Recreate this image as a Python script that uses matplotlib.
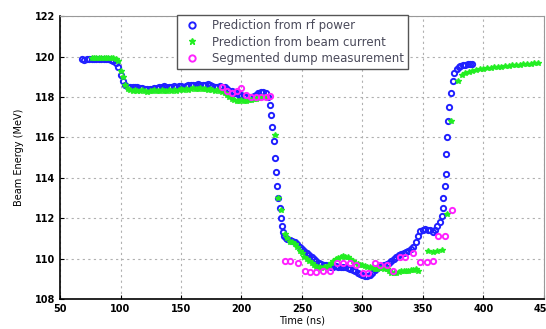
import matplotlib
matplotlib.use("Agg")
import matplotlib.pyplot as plt

# prediction from rf power (blue)
t_rf = [68, 70, 72, 74, 76, 78, 80, 82, 84, 86, 88, 90, 92, 94, 96,
        98, 100, 102, 104, 106, 108, 110, 112, 114, 116, 118, 120, 122, 124,
        126, 128, 130, 132, 134, 136, 138, 140, 142, 144, 146, 148, 150, 152,
        154, 156, 158, 160, 162, 164, 166, 168, 170, 172, 174, 176, 178, 180,
        182, 184, 186, 188, 190, 192, 194, 196, 198, 200, 202, 204, 206, 208,
        210, 212, 214, 216, 218, 220, 222,
        223.5, 224.5, 225.5, 226.5, 227.5, 228.5, 229.5, 230.5, 231.5, 232.5,
        233.5, 234.5, 235.5, 236.5,
        238, 240, 242, 244, 246, 248, 250, 252, 254, 256, 258, 260, 262,
        264, 266, 268, 270, 272, 274, 276, 278, 280, 282, 284, 286, 288, 290,
        292, 294, 296, 298, 300,
        302, 304, 306, 308, 310, 312, 314, 316, 318, 320, 322, 324, 326, 328,
        330, 332, 334, 336, 338, 340, 342, 344, 346, 348, 350, 352, 354, 356,
        358, 360, 362,
        364, 365.5, 366.5, 367, 368, 368.8, 369.5, 370, 371, 372, 373, 374.5,
        376, 378, 379.5, 381, 383, 385, 387, 389, 391]
e_rf = [119.9, 119.85, 119.9, 119.9, 119.9, 119.9, 119.9, 119.9, 119.9, 119.9,
        119.9, 119.9, 119.85, 119.8, 119.7,
        119.5, 119.1, 118.8, 118.6, 118.5, 118.5, 118.5, 118.5, 118.5, 118.45,
        118.45, 118.4, 118.4, 118.4, 118.4, 118.45, 118.45, 118.5, 118.5,
        118.55, 118.5, 118.5, 118.5, 118.55, 118.5, 118.55, 118.55, 118.5,
        118.55, 118.6, 118.6, 118.6, 118.6, 118.65, 118.6, 118.6, 118.6,
        118.65, 118.6, 118.55, 118.5, 118.5, 118.55, 118.5, 118.5, 118.4,
        118.3, 118.3, 118.2, 118.2, 118.1, 118.1, 118.05, 118.0, 118.0, 118.0,
        118.05, 118.1, 118.2, 118.25, 118.25, 118.2, 118.0,
        117.6, 117.1, 116.5, 115.8, 115.0, 114.3, 113.6, 113.0, 112.5, 112.0,
        111.6, 111.3, 111.1, 111.0,
        110.95, 110.9, 110.85, 110.8, 110.7, 110.6, 110.5, 110.4, 110.3, 110.2,
        110.1, 110.0, 109.9,
        109.8, 109.75, 109.7, 109.7, 109.65, 109.6, 109.6, 109.65, 109.6, 109.6,
        109.6, 109.6, 109.55, 109.5, 109.45, 109.4, 109.3, 109.25, 109.2,
        109.15, 109.15, 109.2, 109.3, 109.45, 109.55, 109.6, 109.65, 109.7,
        109.75, 109.8, 109.9, 110.0, 110.1, 110.2, 110.25, 110.3, 110.35,
        110.4, 110.5, 110.6, 110.8, 111.1, 111.35, 111.4, 111.45, 111.4, 111.4,
        111.3, 111.4, 111.6,
        111.8, 112.1, 112.5, 113.0, 113.6, 114.2, 115.2, 116.0, 116.8, 117.5,
        118.2, 118.8, 119.2, 119.4, 119.5, 119.55, 119.6, 119.6, 119.65,
        119.65, 119.65]

# prediction from beam current (green)
t_bc = [76, 78, 80, 82, 84, 86, 88, 90, 92, 94, 96, 98, 100, 102, 104, 106,
        108, 110, 112, 114, 116, 118, 120, 122, 124, 126, 128, 130, 132, 134,
        136, 138, 140, 142, 144, 146, 148, 150, 152, 154, 156, 158, 160, 162,
        164, 166, 168, 170, 172, 174, 176, 178, 180, 182, 184, 186, 188, 190,
        192, 194, 196, 198, 200, 202, 204, 206, 208, 210, 212, 214, 216, 218,
        220,
        227.5, 230, 232.5,
        236, 238, 240, 242, 244, 246, 248, 250, 252, 254, 256, 258, 260, 262,
        264, 266, 268, 270, 272, 274, 276, 278, 280, 282, 284, 286, 288, 290,
        292, 294, 296, 298, 300, 302, 304, 306, 308, 310, 312, 314, 316, 318,
        320, 322, 324, 326, 328, 330, 332, 334, 336, 338, 340, 342, 344, 346,
        354, 358, 362, 365.5, 369.6,
        373, 379, 382, 385, 388, 391, 394, 397, 400, 403, 406, 409, 412, 415,
        418, 421, 424, 427, 430, 433, 436, 439, 442, 445]
e_bc = [119.95, 119.95, 119.95, 119.95, 119.95, 119.95, 119.95, 119.95,
        119.95, 119.95, 119.9, 119.8, 119.3, 119.0, 118.6, 118.4,
        118.35, 118.3, 118.35, 118.3, 118.3, 118.35, 118.3, 118.25, 118.3,
        118.3, 118.35, 118.3, 118.3, 118.35, 118.3, 118.3, 118.35, 118.3,
        118.35, 118.3, 118.35, 118.4, 118.35, 118.4, 118.35, 118.4, 118.45,
        118.4, 118.4, 118.45, 118.4, 118.4, 118.35, 118.4, 118.35, 118.3,
        118.35, 118.3, 118.25, 118.2, 118.1, 118.0, 117.9, 117.85, 117.8,
        117.8, 117.85, 117.8, 117.8, 117.85, 117.85, 117.9, 117.9, 117.95,
        118.0, 118.0, 118.0,
        116.1, 113.0, 112.4,
        111.2, 111.0, 110.8, 110.8, 110.7, 110.6, 110.4, 110.3, 110.1, 110.0,
        109.9, 109.8, 109.7, 109.6, 109.6, 109.55, 109.6, 109.6, 109.7, 109.8,
        109.9, 110.0, 110.05, 110.1, 110.15, 110.1, 110.1, 110.0, 109.9,
        109.8, 109.75, 109.7, 109.7, 109.65, 109.6, 109.6, 109.55, 109.5,
        109.5, 109.55, 109.55, 109.5, 109.5, 109.4, 109.3, 109.3, 109.3,
        109.35, 109.4, 109.4, 109.4, 109.4, 109.45, 109.45, 109.5, 109.4,
        110.4, 110.33, 110.4, 110.45, 112.2,
        116.8, 118.8, 119.1, 119.2, 119.25, 119.3, 119.35, 119.4, 119.4,
        119.45, 119.45, 119.5, 119.5, 119.5, 119.55, 119.55, 119.6, 119.6,
        119.6, 119.65, 119.65, 119.65, 119.7, 119.7]

# segmented dump measurement (magenta)
t_dump = [184, 188, 192, 196, 200, 204, 208, 212, 216, 220, 224,
          236, 240, 247, 252.5, 256.6, 262, 267.6, 273, 278.7, 284, 289.7, 295,
          300.7, 304.8, 310, 314.5, 320, 325.5, 331, 335, 342, 347.5, 353,
          358.5, 362.4, 368, 373.7]
e_dump = [118.5, 118.3, 118.2, 118.3, 118.45, 118.1, 118.0, 118.0, 118.0,
          118.0, 118.05,
          109.9, 109.9, 109.8, 109.4, 109.35, 109.35, 109.4, 109.4, 109.8,
          109.8, 109.8, 109.7, 109.3, 109.3, 109.8, 109.7, 109.7, 109.4, 110.1,
          110.1, 110.3, 109.85, 109.85, 109.9, 111.1, 111.1, 112.4]

fig = plt.figure(figsize=(5.46, 3.29), dpi=100)
ax = fig.add_axes([0.11, 0.091, 0.886, 0.86])

ax.plot(t_rf, e_rf, "o", color="#2020ff", mfc="none", mew=1.4, ms=3.8,
        label="Prediction from rf power")
ax.plot(t_bc, e_bc, "*", color="#22ee22", mec="#22ee22", ms=4.2,
        label="Prediction from beam current")
ax.plot(t_dump, e_dump, "o", color="#ff22ff", mfc="none", mew=1.4, ms=3.8,
        label="Segmented dump measurement")

ax.set_xlim(50, 450)
ax.set_ylim(108, 122)
ax.set_xticks(range(50, 451, 50))
ax.set_yticks(range(108, 123, 2))
ax.grid(True, linestyle=(0, (2, 3)), color="#b0b0b0", linewidth=0.8)
ax.tick_params(labelsize=7, direction="in", length=3)
for lab in ax.get_xticklabels() + ax.get_yticklabels():
    lab.set_fontweight("bold")
ax.spines["top"].set_color("#999999")
ax.spines["right"].set_color("#999999")
ax.spines["left"].set_linewidth(1.2)
ax.spines["bottom"].set_linewidth(1.2)

ax.set_xlabel("Time (ns)", fontsize=7, labelpad=1)
ax.set_ylabel("Beam Energy (MeV)", fontsize=7, labelpad=8)

leg = ax.legend(loc="upper left", bbox_to_anchor=(0.237, 1.012), fontsize=8.5,
                handletextpad=0.8, handlelength=1.8, borderpad=0.35,
                labelspacing=0.28, borderaxespad=0.2,
                fancybox=False, framealpha=1, markerscale=1.2)
leg.get_frame().set_edgecolor("#555555")
for txt in leg.get_texts():
    txt.set_color("#4a4a5a")

fig.savefig("out.png", dpi=100)
